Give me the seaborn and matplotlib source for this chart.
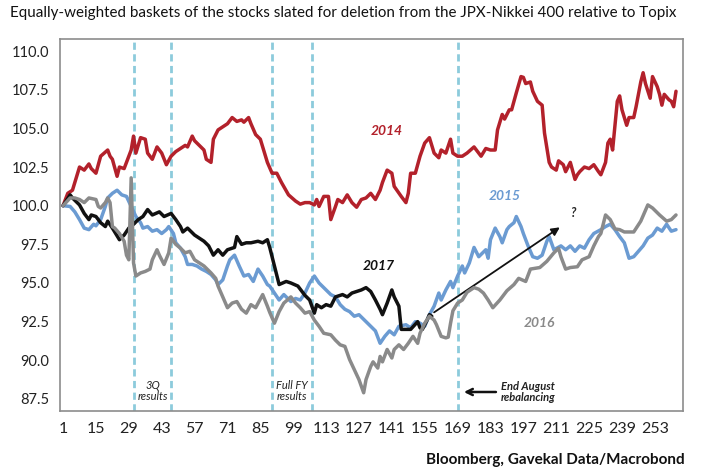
import matplotlib
matplotlib.use("Agg")
import matplotlib.pyplot as plt
import seaborn as sns

# 2014 basket (red)
x14 = [1, 3, 5, 8, 10, 12, 13, 15, 17, 20, 21, 22, 24, 25, 27, 30, 31, 32, 34, 36, 37, 39, 41, 43, 45, 47,
       49, 51, 53, 54, 56, 57, 59, 61, 62, 64, 65, 67, 69, 71, 73, 75, 77, 78, 80, 81, 83, 85, 86, 88, 90,
       92, 94, 97, 100, 102, 104, 106, 108, 109, 110, 112, 114, 115, 117, 118, 120, 122, 124, 126, 128,
       130, 132, 134, 136, 137, 139, 141, 142, 145, 147, 148, 149, 151, 153, 155, 157, 159, 161, 162, 164,
       166, 167, 169, 171, 173, 176, 177, 179, 181, 183, 185, 186, 188, 189, 191, 192, 194, 196, 197, 198,
       200, 201, 203, 205, 206, 208, 209, 211, 212, 214, 215, 217, 219, 220, 221, 223, 225, 227, 229, 230,
       232, 233, 234, 235, 237, 238, 239, 241, 242, 244, 245, 247, 248, 249, 251, 252, 254, 255, 256, 257,
       259, 260, 261, 262]
y14 = [100.0, 100.8, 101.0, 102.5, 102.3, 102.7, 102.4, 102.1, 103.2, 103.6, 103.2, 103.0, 101.9, 102.5,
       102.4, 103.6, 104.5, 103.4, 104.4, 104.3, 103.4, 103.0, 103.8, 103.4, 102.65, 103.2, 103.5, 103.7,
       103.9, 103.8, 104.5, 104.2, 103.9, 103.6, 103.0, 102.8, 104.3, 104.9, 105.1, 105.3, 105.7, 105.45,
       105.55, 105.4, 105.7, 105.3, 104.6, 104.3, 103.8, 102.8, 102.1, 102.1, 101.5, 100.7, 100.3, 100.1,
       100.2, 100.2, 100.05, 100.4, 99.95, 100.6, 100.6, 99.1, 99.95, 100.4, 100.2, 100.7, 100.2, 99.9,
       100.4, 100.5, 100.8, 100.4, 101.0, 101.5, 102.3, 102.1, 101.25, 100.6, 100.2, 100.8, 102.1, 102.1,
       103.2, 104.05, 104.4, 103.4, 103.1, 103.6, 103.4, 104.3, 103.4, 103.2, 103.2, 103.4, 103.8, 103.6,
       103.2, 103.7, 103.6, 103.6, 104.9, 105.9, 105.6, 106.2, 106.2, 107.3, 108.35, 108.3, 107.9, 108.0,
       107.4, 106.75, 106.5, 104.7, 102.8, 102.5, 102.3, 102.9, 102.65, 102.2, 102.8, 101.7, 102.0, 102.2,
       102.5, 102.4, 102.65, 102.2, 102.0, 102.8, 104.05, 104.3, 103.6, 106.75, 107.1, 106.2, 105.2, 105.7,
       105.7, 106.4, 108.0, 108.6, 107.9, 106.95, 108.35, 107.7, 107.2, 106.5, 107.2, 106.85, 106.75,
       106.4, 107.4]

# 2015 basket (blue)
x15 = [1, 4, 6, 8, 10, 12, 14, 15, 17, 19, 20, 22, 24, 26, 28, 30, 32, 34, 35, 37, 39, 41, 43, 45, 46, 48,
       49, 51, 53, 54, 56, 58, 60, 62, 64, 66, 67, 69, 71, 72, 74, 76, 78, 80, 82, 84, 86, 88, 89, 91, 93,
       95, 98, 100, 102, 104, 106, 108, 110, 112, 115, 117, 119, 121, 123, 125, 127, 130, 132, 134, 136,
       138, 140, 142, 144, 147, 149, 151, 153, 155, 157, 159, 161, 162, 164, 166, 167, 169, 171, 172, 174,
       176, 178, 181, 182, 183, 185, 187, 188, 190, 191, 193, 194, 196, 197, 199, 201, 203, 205, 207, 208,
       210, 213, 215, 217, 219, 221, 223, 225, 227, 230, 232, 234, 236, 238, 240, 242, 244, 246, 248, 250,
       252, 254, 256, 258, 260, 262]
y15 = [100.0, 99.95, 99.6, 99.1, 98.55, 98.45, 98.8, 98.7, 99.1, 99.95, 100.5, 100.8, 101.0, 100.7, 100.6,
       99.95, 99.3, 98.9, 98.55, 98.65, 98.35, 98.45, 98.2, 98.45, 98.65, 98.2, 97.6, 97.25, 96.7, 96.2,
       96.2, 96.1, 95.9, 95.75, 95.55, 95.2, 94.9, 95.2, 96.1, 96.5, 96.8, 96.1, 95.45, 95.55, 95.1, 95.9,
       95.45, 94.9, 94.8, 94.35, 93.9, 94.25, 93.8, 94.0, 93.9, 94.35, 95.0, 95.45, 95.0, 94.7, 94.25, 94.1,
       93.6, 93.3, 93.15, 92.85, 92.95, 92.5, 92.2, 91.9, 91.1, 91.55, 91.9, 91.65, 92.2, 92.3, 92.1, 92.5,
       92.4, 92.2, 92.95, 93.5, 94.35, 93.9, 94.55, 95.1, 94.7, 95.45, 96.1, 95.65, 96.3, 97.3, 96.7, 97.15,
       96.6, 97.8, 98.55, 98.0, 97.6, 98.45, 98.65, 98.9, 99.3, 98.65, 98.2, 97.4, 96.7, 96.6, 96.8, 97.7,
       98.0, 97.15, 97.4, 97.15, 97.4, 97.05, 97.4, 97.25, 97.8, 98.2, 98.45, 98.65, 98.8, 98.45, 98.0,
       97.6, 96.6, 96.7, 97.05, 97.4, 97.9, 98.1, 98.55, 98.35, 98.8, 98.35, 98.45]

# 2016 basket (grey)
x16 = [1, 4, 6, 8, 10, 12, 15, 16, 17, 19, 20, 21, 22, 23, 25, 27, 28, 29, 30, 31, 32, 34, 36, 38, 39, 41,
       42, 44, 46, 47, 49, 51, 53, 55, 57, 59, 61, 64, 66, 67, 69, 71, 73, 75, 77, 79, 81, 83, 86, 88, 89,
       91, 93, 95, 98, 100, 102, 104, 106, 108, 110, 112, 115, 117, 119, 121, 123, 125, 127, 129, 130, 132,
       133, 135, 136, 137, 139, 141, 142, 144, 146, 148, 150, 152, 153, 155, 157, 159, 160, 162, 164, 165,
       166, 167, 169, 171, 173, 176, 178, 180, 182, 184, 187, 190, 193, 195, 198, 200, 204, 207, 210, 212,
       213, 215, 217, 220, 222, 225, 227, 229, 230, 232, 234, 236, 238, 240, 242, 244, 247, 250, 252, 255,
       258, 260, 262]
y16 = [100.0, 100.5, 100.5, 100.4, 100.2, 100.5, 100.4, 99.95, 99.85, 100.2, 100.5, 100.2, 98.65, 98.55,
       98.2, 97.7, 96.8, 96.5, 101.8, 96.3, 95.45, 95.65, 95.75, 95.9, 96.5, 97.15, 96.8, 96.2, 96.95, 97.9,
       97.5, 97.25, 96.95, 97.05, 96.5, 96.3, 96.1, 95.65, 95.3, 94.8, 94.1, 93.4, 93.7, 93.8, 93.3, 93.05,
       93.6, 93.4, 94.25, 93.5, 93.1, 92.4, 93.15, 93.7, 94.1, 93.7, 93.4, 93.05, 93.15, 92.6, 92.2, 91.75,
       91.65, 91.3, 91.0, 90.9, 90.05, 89.4, 88.75, 87.9, 88.75, 89.6, 89.9, 89.5, 90.25, 89.9, 90.7, 90.15,
       90.7, 91.0, 90.7, 91.1, 91.55, 91.1, 91.75, 92.4, 92.85, 92.6, 92.3, 91.55, 91.45, 91.5, 92.4, 93.2,
       93.7, 93.9, 94.4, 94.7, 94.6, 94.35, 93.9, 93.4, 93.9, 94.5, 94.9, 95.3, 95.1, 95.9, 96.0, 96.4,
       96.95, 97.25, 96.7, 95.9, 96.0, 96.05, 96.5, 96.7, 97.4, 98.0, 98.2, 99.4, 99.1, 98.5, 98.45, 98.3,
       98.3, 98.3, 99.0, 100.05, 99.85, 99.4, 99.0, 99.1, 99.4]

# 2017 basket (black)
x17 = [1, 4, 5, 8, 10, 12, 13, 15, 17, 19, 20, 22, 25, 27, 29, 31, 33, 35, 37, 39, 42, 44, 47, 49, 51, 52,
       54, 57, 59, 61, 63, 65, 67, 69, 71, 74, 75, 77, 79, 81, 84, 86, 88, 89, 91, 93, 96, 98, 101, 104,
       106, 108, 109, 111, 113, 115, 117, 120, 122, 124, 126, 128, 130, 132, 134, 136, 137, 139, 141, 142,
       144, 145, 147, 149, 152, 153, 154, 156, 157, 158]
y17 = [100.0, 100.7, 100.5, 100.05, 99.5, 99.1, 99.4, 99.3, 98.9, 98.65, 99.0, 98.55, 97.8, 98.1, 98.55,
       98.8, 99.1, 99.3, 99.75, 99.4, 99.6, 99.3, 99.5, 99.1, 98.65, 98.3, 98.55, 98.1, 97.9, 97.7, 97.4,
       96.8, 97.15, 96.8, 97.15, 97.3, 98.0, 97.5, 97.6, 97.6, 97.7, 97.6, 97.8, 97.3, 96.1, 94.9, 95.1,
       95.0, 94.8, 94.2, 93.9, 93.05, 93.6, 93.4, 93.6, 93.5, 94.1, 94.25, 94.1, 94.35, 94.45, 94.55, 94.7,
       94.45, 93.9, 93.3, 92.95, 93.7, 94.55, 94.1, 93.5, 92.0, 92.0, 92.0, 92.5, 92.1, 92.0, 92.6, 92.95,
       92.85]

event_days = [31, 47, 90, 107, 169]
xtick_days = list(range(1, 254, 14))
ytick_vals = [87.5, 90.0, 92.5, 95.0, 97.5, 100.0, 102.5, 105.0, 107.5, 110.0]

sns.set_style("white")
plt.rcParams["font.family"] = ["Lato", "DejaVu Sans"]

fig = plt.figure(figsize=(7.02, 4.70), dpi=100)
ax = fig.add_axes([0.0855, 0.1255, 0.8875, 0.7915])

for d in event_days:
    ax.axvline(d, color="#8ccbdc", lw=2.0, ls=(0, (2.6, 1.6)), zorder=1)

sns.lineplot(x=x14, y=y14, ax=ax, color="#b3212b", linewidth=2.5, estimator=None, sort=False, zorder=3)
sns.lineplot(x=x15, y=y15, ax=ax, color="#6b9bd2", linewidth=2.5, estimator=None, sort=False, zorder=3)
sns.lineplot(x=x17, y=y17, ax=ax, color="#111111", linewidth=2.5, estimator=None, sort=False, zorder=4)
sns.lineplot(x=x16, y=y16, ax=ax, color="#8a8a8a", linewidth=2.5, estimator=None, sort=False, zorder=4)

ax.set_xlim(-0.3, 265)
ax.set_ylim(86.72, 110.78)
ax.set_xticks(xtick_days)
ax.set_yticks(ytick_vals)
ax.set_yticklabels([f"{v:.1f}" for v in ytick_vals])
ax.set_xlabel("")
ax.set_ylabel("")

for s in ax.spines.values():
    s.set_visible(True)
    s.set_color("#8c8c8c")
    s.set_linewidth(1.2)
ax.tick_params(axis="both", direction="out", length=5, width=1.2, color="#8c8c8c",
               labelsize=10.5, labelcolor="#222222", pad=3)
ax.tick_params(axis="x", labelsize=11.5)

# series labels
lab = dict(fontsize=10, fontweight="bold", style="italic", ha="center", va="center")
ax.text(139, 104.8, "2014", color="#b3212b", **lab)
ax.text(189, 100.65, "2015", color="#6b9bd2", **lab)
ax.text(135.5, 96.1, "2017", color="#111111", **lab)
ax.text(204, 92.4, "2016", color="#8a8a8a", **lab)

# trend arrow
ax.annotate("", xy=(213.5, 98.7), xytext=(158, 93.0),
            arrowprops=dict(arrowstyle="-|>", color="#111111", lw=1.3, mutation_scale=12))
ax.text(218, 99.5, "?", fontsize=9, fontweight="bold", style="italic", ha="center", va="center")

small = dict(fontsize=8, style="italic", ha="center", va="center", color="#222222", linespacing=1.05)
ax.text(39.3, 88.0, "3Q\nresults", **small)
ax.text(98.5, 88.0, "Full FY\nresults", **small)
ax.text(199, 87.95, "End August\nrebalancing", fontweight="bold", **small)
ax.annotate("", xy=(170.5, 87.95), xytext=(186.5, 87.95),
            arrowprops=dict(arrowstyle="->", color="#111111", lw=1.8, mutation_scale=11))

fig.text(0.014, 0.972, "Equally-weighted baskets of the stocks slated for deletion from the JPX-Nikkei 400 relative to Topix",
         fontsize=10.9, ha="left", va="center", color="#111111")
fig.text(0.975, 0.022, "Bloomberg, Gavekal Data/Macrobond", fontsize=11, fontweight="bold",
         ha="right", va="center", color="#111111")

fig.savefig("out.png", dpi=100)
